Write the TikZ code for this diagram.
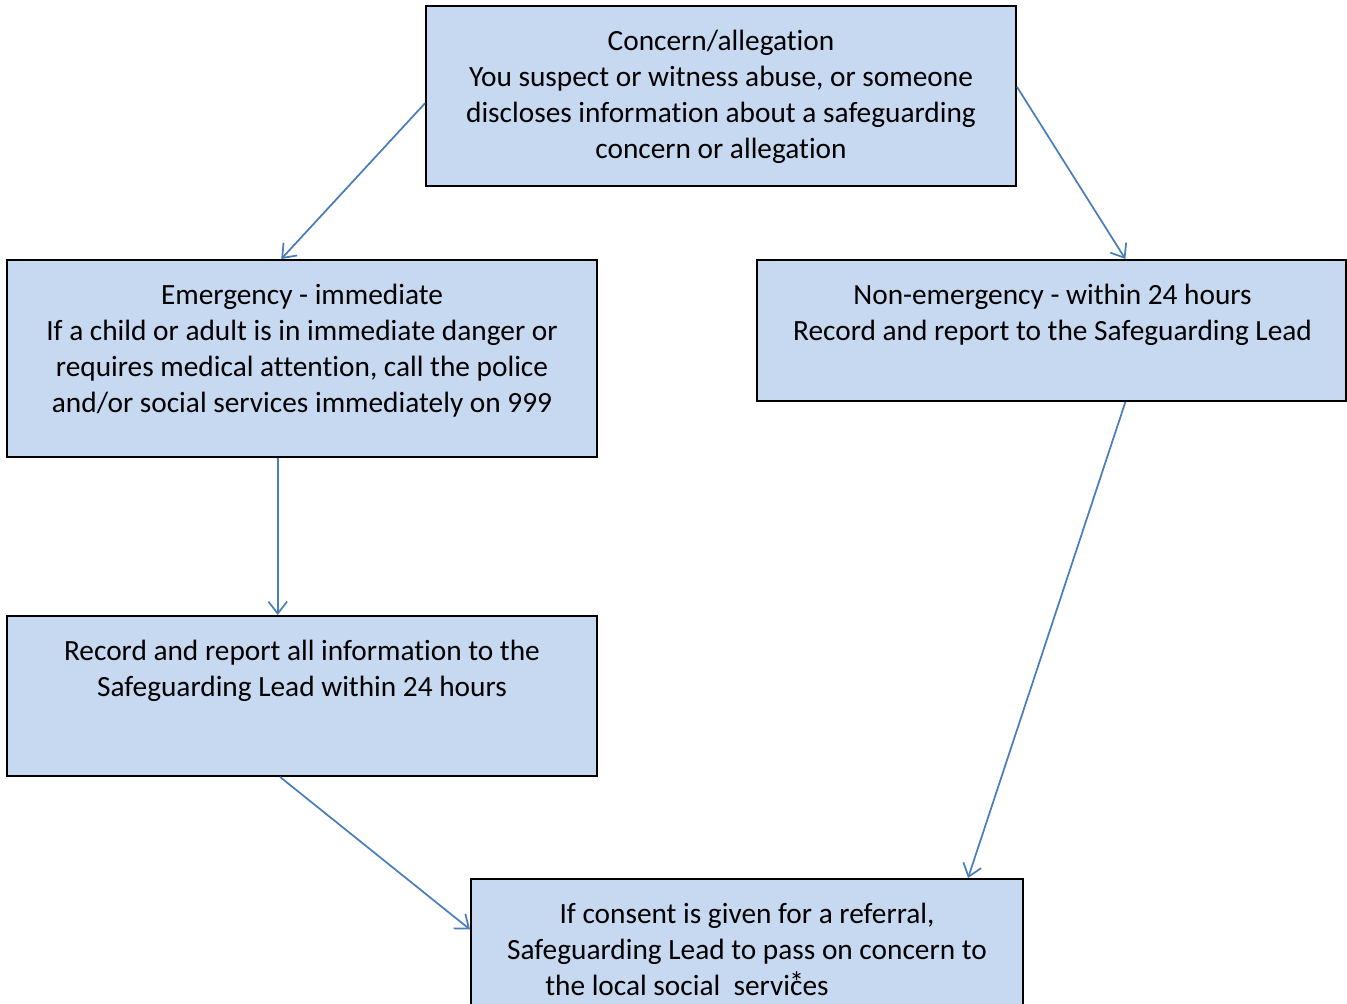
\documentclass[tikz,border=0pt]{standalone}
\usepackage{fontspec}
\setmainfont{Carlito}[Ligatures={NoCommon}]
\usetikzlibrary{arrows.meta,calc,fit}
\definecolor{boxfill}{HTML}{C6D9F1}
\definecolor{arrowblue}{HTML}{4A7EBB}
\begin{document}
\begin{tikzpicture}[x=0.375pt,y=-0.375pt,
  box/.style={draw=black,line width=0.75pt,fill=boxfill,inner sep=0pt},
  txt/.style={align=center,font=\fontsize{11}{13.5}\selectfont,inner sep=0pt,anchor=base},
  conn/.style={draw=arrowblue,line width=0.65pt,-{Straight Barb[length=4.5pt,width=7pt]}}]
\useasboundingbox (0,0) rectangle (1347,1004);
\clip (0,0) rectangle (1347,1004);
% corners
\coordinate (t1) at (426,6);   \coordinate (t2) at (1016,186);
\coordinate (e1) at (7,260);   \coordinate (e2) at (597,457);
\coordinate (n1) at (757,260); \coordinate (n2) at (1346,401);
\coordinate (r1) at (7,616);   \coordinate (r2) at (597,776);
\coordinate (b1) at (471,879); \coordinate (b2) at (1023,1020);
\node[box,fit=(t1)(t2)] (top) {};
\node[box,fit=(e1)(e2)] (emg) {};
\node[box,fit=(n1)(n2)] (non) {};
\node[box,fit=(r1)(r2)] (rec) {};
\node[box,fit=(b1)(b2)] (bot) {};
\node[txt] (toptxt) at ($(top.north)+(0,154)$) {Concern/allegation\\You suspect or witness abuse, or someone\\discloses information about a safeguarding\\concern or allegation};
\node[txt] (emgtxt) at ($(emg.north)+(0,154)$) {Emergency - immediate\\If a child or adult is in immediate danger or\\requires medical attention, call the police\\and/or social services immediately on 999};
\node[txt] (nontxt) at ($(non.north)+(1,82)$) {Non-emergency - within 24 hours\\Record and report to the Safeguarding Lead};
\node[txt] (rectxt) at ($(rec.north)+(0,82)$) {Record and report all information to the\\Safeguarding Lead within 24 hours};
\node[txt] (bottxt) at ($(bot.north)+(0,117)$) {If consent is given for a referral,\\Safeguarding Lead to pass on concern to\\the local social\ \ servi\makebox[0pt][l]{\kern-0.3pt\raisebox{1pt}{*}}ces\hspace*{45pt}};
% connectors
\draw[conn] ($(top.north west)!0.54!(top.south west)$) -- ($(emg.north west)!0.465!(emg.north east)$);
\draw[conn] ($(top.north east)!0.45!(top.south east)$) -- ($(non.north west)!0.625!(non.north east)$);
\draw[conn] ($(emg.south west)!0.459!(emg.south east)$) -- ($(rec.north west)!0.459!(rec.north east)$);
\draw[conn] ($(non.south west)!0.625!(non.south east)$) -- ($(bot.north west)!0.899!(bot.north east)$);
\draw[conn] ($(rec.south west)!0.463!(rec.south east)$) -- ($(bot.north west)!0.36!(bot.south west)$);
\end{tikzpicture}
\end{document}
